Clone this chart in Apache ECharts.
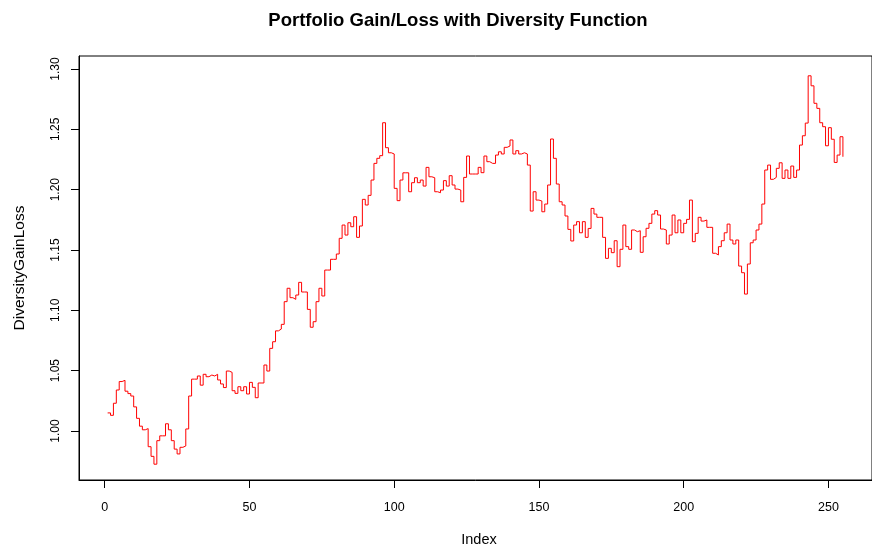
<!DOCTYPE html>
<html><head><meta charset="utf-8">
<script src="https://cdn.jsdelivr.net/npm/echarts@6/dist/echarts.min.js"></script>
<style>html,body{margin:0;padding:0;background:#fff}#c{width:872px;height:548px}</style>
</head><body><div id="c"></div>
<script>
const chartTitle = 'Portfolio Gain/Loss with Diversity Function';
const xAxisTitle = 'Index';
const yAxisTitle = 'DiversityGainLoss';
const xTickValues = [0, 50, 100, 150, 200, 250];
const yTickValues = [1.00, 1.05, 1.10, 1.15, 1.20, 1.25, 1.30];
// values for Index 1..255
const gainLoss = [
  1.015, 1.013, 1.023, 1.034, 1.041, 1.042, 1.033, 1.031, 1.029, 1.020,
  1.0105, 1.004, 1.001, 1.002, 0.987, 0.979, 0.9725, 0.992, 0.996, 0.996,
  1.006, 1.001, 0.992, 0.985, 0.981, 0.9865, 0.9876, 1.0017, 1.029, 1.043,
  1.043, 1.0456, 1.038, 1.047, 1.045, 1.0464, 1.0456, 1.047, 1.0423, 1.039,
  1.036, 1.0497, 1.0486, 1.0334, 1.0312, 1.0367, 1.0334, 1.0367, 1.0307, 1.0403,
  1.0362, 1.0276, 1.0398, 1.0398, 1.0547, 1.0497, 1.0685, 1.074, 1.083, 1.0845,
  1.0884, 1.1072, 1.1183, 1.1105, 1.1091, 1.1127, 1.1232, 1.1152, 1.1152, 1.1008,
  1.086, 1.0906, 1.1072, 1.1183, 1.1119, 1.1334, 1.1334, 1.1423, 1.1423, 1.1467,
  1.1597, 1.1707, 1.1624, 1.1726, 1.1693, 1.1776, 1.1605, 1.1699, 1.192, 1.1873,
  1.1953, 1.208, 1.2218, 1.226, 1.2282, 1.2555, 1.2348, 1.2306, 1.2296, 1.2011,
  1.1909, 1.208, 1.214, 1.214, 1.1983, 1.2058, 1.2099, 1.2058, 1.208, 1.203,
  1.2185, 1.2107, 1.2099, 1.1983, 1.1975, 1.1997, 1.2075, 1.203, 1.2116, 1.2039,
  1.2005, 1.1997, 1.19, 1.2102, 1.2279, 1.213, 1.213, 1.213, 1.2185, 1.2141,
  1.2279, 1.2232, 1.2218, 1.2218, 1.2287, 1.2314, 1.2296, 1.2351, 1.2362, 1.2412,
  1.2296, 1.2323, 1.2296, 1.2306, 1.2296, 1.2204, 1.1823, 1.1983, 1.1914, 1.1906,
  1.1817, 1.1881, 1.2039, 1.242, 1.226, 1.2047, 1.19, 1.1873, 1.1782, 1.1671,
  1.1575, 1.1707, 1.1735, 1.1643, 1.1735, 1.1605, 1.1679, 1.1845, 1.1798, 1.1771,
  1.1771, 1.1605, 1.1431, 1.1514, 1.1478, 1.1577, 1.1362, 1.1506, 1.1707, 1.1528,
  1.1506, 1.1666, 1.1652, 1.166, 1.1481, 1.161, 1.168, 1.1721, 1.1798, 1.1826,
  1.179, 1.1674, 1.1666, 1.155, 1.1624, 1.179, 1.1643, 1.1749, 1.1643, 1.1721,
  1.1754, 1.1914, 1.1569, 1.1638, 1.1771, 1.174, 1.1749, 1.1688, 1.1688, 1.1473,
  1.1459, 1.1528, 1.1577, 1.1643, 1.1715, 1.1583, 1.155, 1.1583, 1.1367, 1.1312,
  1.1135, 1.1384, 1.156, 1.1583, 1.1666, 1.1715, 1.1881, 1.2163, 1.2204, 1.2086,
  1.2102, 1.2177, 1.2223, 1.2094, 1.2163, 1.2094, 1.2196, 1.2102, 1.2163, 1.237,
  1.2447, 1.2552, 1.2944, 1.2861, 1.2716, 1.2674, 1.2555, 1.2522, 1.2364, 1.2514,
  1.2418, 1.2226, 1.2287, 1.2439, 1.2273
];

const FONT = '"Liberation Sans", Arial, Helvetica, sans-serif';
const chart = echarts.init(document.getElementById('c'), null, {renderer: 'canvas'});
const seriesData = gainLoss.map((v, i) => [i + 1, v]);

chart.setOption({
  animation: false,
  backgroundColor: '#ffffff',
  grid: {
    left: 79, top: 56, width: 801, height: 424,
    show: true, borderColor: '#000', borderWidth: 1, backgroundColor: 'transparent'
  },
  xAxis: {
    type: 'value', min: -8.89, max: 265.05,
    axisLine: {show: true, onZero: false, lineStyle: {color: '#000', width: 1}},
    splitLine: {show: false},
    axisTick: {show: true, inside: false, customValues: xTickValues, length: 8, lineStyle: {color: '#000', width: 1}},
    axisLabel: {customValues: xTickValues, margin: 21, fontSize: 12.5, color: '#000', fontFamily: FONT}
  },
  yAxis: {
    type: 'value', min: 0.9594, max: 1.3108,
    axisLine: {show: true, onZero: false, lineStyle: {color: '#000', width: 1}},
    splitLine: {show: false},
    axisTick: {show: true, inside: false, customValues: yTickValues, length: 8, lineStyle: {color: '#000', width: 1}},
    axisLabel: {customValues: yTickValues, rotate: 90, margin: 17, fontSize: 12, color: '#000', fontFamily: FONT,
      formatter: v => Number(v).toFixed(2)}
  },
  series: [{
    type: 'line', step: 'end', data: seriesData, showSymbol: false, symbol: 'none',
    lineStyle: {color: '#ff0000', width: 1}, clip: true
  }],
  graphic: [
    {type: 'text', x: 458, y: 21, style: {text: chartTitle, fontSize: 18.5, fontWeight: 'bold', fontFamily: FONT, fill: '#000', textAlign: 'center', textVerticalAlign: 'middle'}},
    {type: 'text', x: 479, y: 540, style: {text: xAxisTitle, fontSize: 14.5, fontFamily: FONT, fill: '#000', textAlign: 'center', textVerticalAlign: 'middle'}},
    {type: 'text', x: 20, y: 268, rotation: Math.PI / 2, style: {text: yAxisTitle, fontSize: 15.5, fontFamily: FONT, fill: '#000', textAlign: 'center', textVerticalAlign: 'middle'}}
  ]
});
</script>
</body></html>
